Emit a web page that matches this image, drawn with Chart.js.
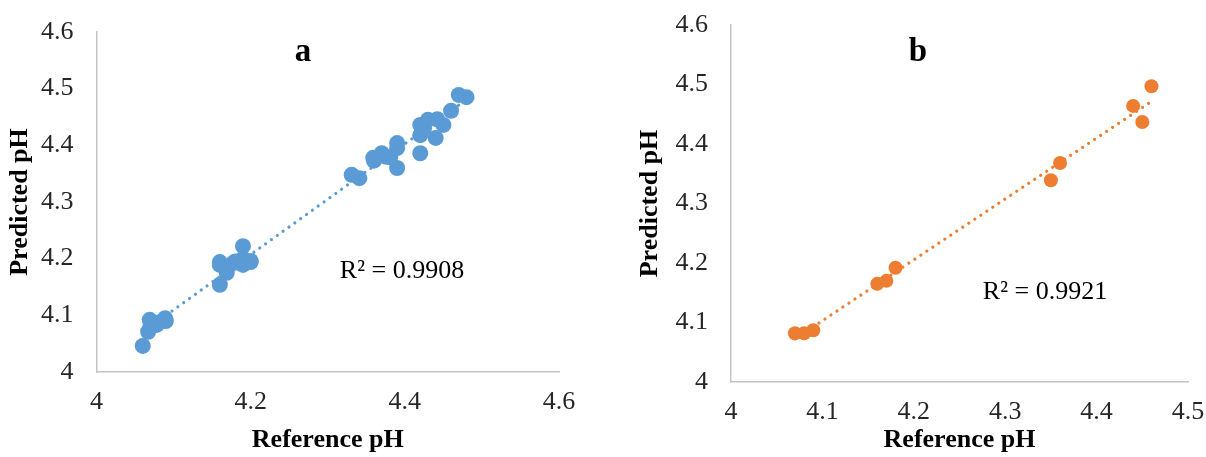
<!DOCTYPE html>
<html>
<head>
<meta charset="utf-8">
<script src="https://cdn.jsdelivr.net/npm/chart.js@4.4.1/dist/chart.umd.min.js"></script>
<style>
  html, body { margin: 0; padding: 0; background: #ffffff; }
  body { width: 1206px; height: 457px; position: relative; overflow: hidden; }
  #ca { position: absolute; left: 0; top: 0; }
  #cb { position: absolute; left: 630px; top: 0; }
</style>
</head>
<body>
<canvas id="ca" width="606" height="457"></canvas>
<canvas id="cb" width="576" height="457"></canvas>
<script>
// ---- Data ----
const aReference = [4.06, 4.067, 4.069, 4.07, 4.078, 4.082, 4.089, 4.09,
  4.16, 4.16, 4.16, 4.169, 4.17, 4.177, 4.18, 4.19, 4.19, 4.19, 4.2, 4.2,
  4.331, 4.341, 4.359, 4.36, 4.37, 4.375, 4.381, 4.39, 4.39, 4.39,
  4.42, 4.42, 4.42, 4.425, 4.43, 4.442, 4.44, 4.45, 4.46, 4.47, 4.48];
const aPredicted = [4.046, 4.071, 4.092, 4.08, 4.083, 4.088, 4.095, 4.09,
  4.194, 4.154, 4.189, 4.175, 4.185, 4.192, 4.195, 4.222, 4.189, 4.2, 4.194, 4.196,
  4.348, 4.342, 4.378, 4.373, 4.386, 4.38, 4.379, 4.404, 4.36, 4.395,
  4.418, 4.386, 4.436, 4.43, 4.445, 4.446, 4.413, 4.436, 4.461, 4.489, 4.485];
const bReference = [4.07, 4.08, 4.09, 4.16, 4.17, 4.18, 4.35, 4.36, 4.44, 4.45, 4.46];
const bPredicted = [4.082, 4.082, 4.087, 4.165, 4.17, 4.192, 4.339, 4.368, 4.464, 4.437, 4.497];

const aTitle = 'a';
const bTitle = 'b';
const aR2 = 'R\u00B2 = 0.9908';
const bR2 = 'R\u00B2 = 0.9921';
const xTitle = 'Reference pH';
const yTitle = 'Predicted pH';
const aXTicks = [4, 4.2, 4.4, 4.6];
const bXTicks = [4, 4.1, 4.2, 4.3, 4.4, 4.5];
const yTicks = [4, 4.1, 4.2, 4.3, 4.4, 4.5, 4.6];

// ---- helpers ----
function toPoints(xs, ys) { return xs.map((x, i) => ({ x: x, y: ys[i] })); }
function trend(xs, ys) {
  const n = xs.length;
  const mx = xs.reduce((s, v) => s + v, 0) / n;
  const my = ys.reduce((s, v) => s + v, 0) / n;
  let sxy = 0, sxx = 0;
  for (let i = 0; i < n; i++) { sxy += (xs[i] - mx) * (ys[i] - my); sxx += (xs[i] - mx) ** 2; }
  const b = sxy / sxx, a = my - b * mx;
  const x0 = Math.min(...xs), x1 = Math.max(...xs);
  return [{ x: x0, y: a + b * x0 }, { x: x1, y: a + b * x1 }];
}
function clearPad(s) { s.paddingTop = 0; s.paddingBottom = 0; s.paddingLeft = 0; s.paddingRight = 0; }

const SERIF = "'Liberation Serif', 'Times New Roman', serif";
const AXIS = '#c4c4c4';
const TICK = '#262626';

const textPlugin = {
  id: 'texts',
  afterDraw(chart, args, opts) {
    const ctx = chart.ctx;
    ctx.save();
    ctx.fillStyle = '#000';
    ctx.textAlign = 'center';
    ctx.textBaseline = 'middle';
    ctx.font = 'bold 33px ' + SERIF;
    ctx.fillText(opts.title, opts.titleX, opts.titleY);
    ctx.font = '26px ' + SERIF;
    ctx.fillText(opts.r2, opts.r2X, opts.r2Y);
    ctx.restore();
  }
};

function makeChart(id, xs, ys, color, radius, xMax, xTicks, geo) {
  const ctx = document.getElementById(id).getContext('2d');
  return new Chart(ctx, {
    type: 'scatter',
    data: {
      datasets: [
        {
          data: trend(xs, ys),
          showLine: true,
          borderColor: color,
          borderWidth: 3.2,
          borderDash: [0.001, 7.2],
          borderCapStyle: 'round',
          pointRadius: 0,
          pointHoverRadius: 0,
          fill: false,
          order: 0
        },
        {
          data: toPoints(xs, ys),
          backgroundColor: color,
          borderWidth: 0,
          pointRadius: radius,
          pointHoverRadius: radius,
          order: 1
        }
      ]
    },
    options: {
      responsive: false,
      animation: false,
      devicePixelRatio: 1,
      events: [],
      layout: { padding: { left: 0, right: geo.padRight, top: geo.padTop, bottom: 0 } },
      plugins: {
        legend: { display: false },
        tooltip: { enabled: false },
        title: { display: false },
        texts: geo.texts
      },
      scales: {
        x: {
          type: 'linear',
          min: 4, max: xMax,
          afterBuildTicks: (s) => { s.ticks = xTicks.map(v => ({ value: v })); },
          afterFit: (s) => { s.height = geo.xAxisH; clearPad(s); },
          grid: { display: false, drawTicks: false },
          border: { display: true, color: AXIS, width: 1.5 },
          ticks: {
            padding: 15,
            color: TICK,
            font: { family: SERIF, size: 26 },
            maxRotation: 0,
            callback: (v) => String(Math.round(v * 10) / 10)
          },
          title: {
            display: true,
            text: xTitle,
            color: '#000',
            font: { family: SERIF, size: 26, weight: 'bold' },
            padding: { top: 0, bottom: 1.5 }
          }
        },
        y: {
          type: 'linear',
          min: 4, max: 4.6,
          afterBuildTicks: (s) => { s.ticks = yTicks.map(v => ({ value: v })); },
          afterFit: (s) => { s.width = geo.yAxisW; clearPad(s); },
          grid: { display: false, drawTicks: false },
          border: { display: true, color: AXIS, width: 1.5 },
          ticks: {
            padding: 23,
            color: TICK,
            font: { family: SERIF, size: 26 },
            callback: (v) => String(Math.round(v * 10) / 10)
          },
          title: {
            display: true,
            text: yTitle,
            color: '#000',
            font: { family: SERIF, size: 26, weight: 'bold' },
            padding: { top: 4.4, bottom: 0 }
          }
        }
      }
    },
    plugins: [textPlugin]
  });
}

makeChart('ca', aReference, aPredicted, '#5B9BD5', 8, 4.6, aXTicks, {
  padRight: 47, padTop: 32, xAxisH: 85, yAxisW: 96.5,
  texts: { title: aTitle, titleX: 303, titleY: 52, r2: aR2, r2X: 402, r2Y: 271 }
});
makeChart('cb', bReference, bPredicted, '#ED7D31', 7, 4.5, bXTicks, {
  padRight: 18, padTop: 25, xAxisH: 75, yAxisW: 101,
  texts: { title: bTitle, titleX: 288, titleY: 52, r2: bR2, r2X: 415, r2Y: 292 }
});
</script>
</body>
</html>
